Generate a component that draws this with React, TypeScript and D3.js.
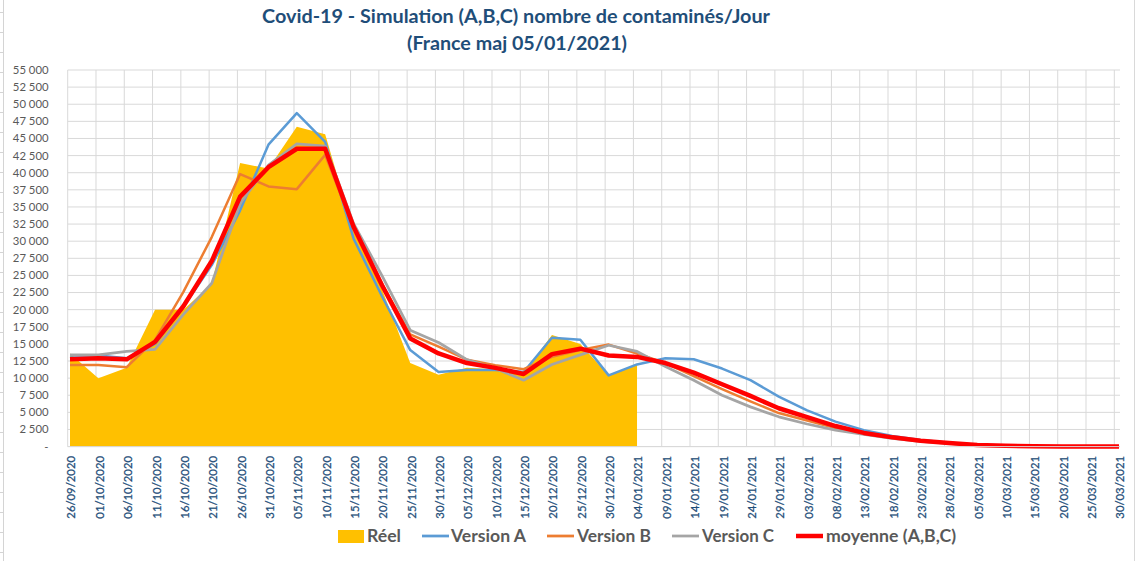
import React from "react";
import * as d3 from "d3";

const dateLabels = [
  "26/09/2020", "01/10/2020", "06/10/2020", "11/10/2020", "16/10/2020", "21/10/2020",
  "26/10/2020", "31/10/2020", "05/11/2020", "10/11/2020", "15/11/2020", "20/11/2020",
  "25/11/2020", "30/11/2020", "05/12/2020", "10/12/2020", "15/12/2020", "20/12/2020",
  "25/12/2020", "30/12/2020", "04/01/2021", "09/01/2021", "14/01/2021", "19/01/2021",
  "24/01/2021", "29/01/2021", "03/02/2021", "08/02/2021", "13/02/2021", "18/02/2021",
  "23/02/2021", "28/02/2021", "05/03/2021", "10/03/2021", "15/03/2021", "20/03/2021",
  "25/03/2021", "30/03/2021",
];

const reel = [
  13600, 10000, 11500, 20000, 20000, 23800, 41400, 40600, 46700, 45600, 31500,
  23000, 12200, 10500, 11500, 11300, 10800, 16300, 15000, 10400, 12100,
];

const versionA = [
  13300, 13300, 12900, 15000, 20400, 26500, 34500, 44100, 48700, 44500, 30400,
  22000, 14100, 10900, 11200, 11200, 10900, 15900, 15600, 10400, 12000, 12900,
  12750, 11400, 9700, 7300, 5300, 3650, 2400, 1550, 950, 580, 260, 150, 70, 30, 10, 0,
];

const versionB = [
  11900, 11900, 11600, 15600, 22600, 30600, 39800, 38000, 37600, 42600, 31900,
  23800, 16400, 14600, 12700, 11900, 11300, 13100, 14100, 14900, 13600, 12200,
  10300, 8400, 6600, 4900, 3800, 2700, 1950, 1350, 850, 550, 240, 120, 50, 20, 5, 0,
];

const versionC = [
  13400, 13400, 13900, 14200, 19300, 23850, 35500, 41100, 44200, 43900, 32600,
  25000, 17000, 15200, 12700, 11400, 9700, 12000, 13400, 14800, 13900, 11700,
  9700, 7500, 5800, 4350, 3300, 2400, 1800, 1200, 770, 480, 150, 80, 30, 10, 0, 0,
];

const moyenne = [
  12750, 12900, 12750, 15300, 20500, 27100, 36500, 40800, 43500, 43500, 32100,
  23600, 15800, 13600, 12200, 11500, 10600, 13500, 14300, 13300, 13100, 12200,
  10800, 9100, 7400, 5600, 4300, 3000, 2000, 1350, 850, 540, 220, 110, 40, 15, 5, 0,
];

const yTicks = d3.range(0, 55001, 2500);

const titleLine1 = "Covid-19 - Simulation (A,B,C) nombre de contaminés/Jour";
const titleLine2 = "(France maj 05/01/2021)";

const legendItems = [
  { label: "Réel", color: "#FFC000", kind: "rect" },
  { label: "Version A", color: "#5B9BD5", kind: "line" },
  { label: "Version B", color: "#ED7D31", kind: "line" },
  { label: "Version C", color: "#A5A5A5", kind: "line" },
  { label: "moyenne (A,B,C)", color: "#FF0000", kind: "line" },
];

const W = 1141;
const H = 561;
const FONT = "Lato, 'Open Sans', sans-serif";

export default function App() {
  const n = dateLabels.length;
  const x = d3.scaleLinear().domain([0, n - 1]).range([70, 1119]);
  const xGrid = d3.scaleLinear().domain([0, n - 1]).range([67.7, 1114.3]);
  const y = d3.scaleLinear().domain([0, 55000]).range([446.6, 70]);

  const line = d3
    .line<number>()
    .x((_, i) => x(i))
    .y((d) => y(d));
  const area = d3
    .area<number>()
    .x((_, i) => x(i))
    .y0(y(0))
    .y1((d) => y(d));

  const fmt = (v: number) =>
    v === 0 ? "-" : d3.format(",")(v).replace(/,/g, " ");

  const series = [
    { data: versionA, color: "#5B9BD5", w: 2.5 },
    { data: versionB, color: "#ED7D31", w: 2.5 },
    { data: versionC, color: "#A5A5A5", w: 2.75 },
    { data: moyenne, color: "#FF0000", w: 4.5 },
  ];

  const legendX = [338, 422, 547, 672, 796];
  const legendTextX = [367, 451, 577, 702, 826];
  const legendTextW = [34, 75, 74, 72, 130];
  const legendY = 536;

  const sideTicks = d3.range(12, H, 20);

  return (
    <svg
      width={W}
      height={H}
      style={{ position: "absolute", left: 0, top: 0, background: "#fff" }}
    >
      <rect x={0} y={0} width={W} height={H} fill="#fff" />
      {/* worksheet fragments at the edges */}
      <line x1={3.5} x2={3.5} y1={0} y2={H} stroke="#D4D4D4" strokeWidth={1} />
      {sideTicks.map((t) => (
        <line key={t} x1={0} x2={3.5} y1={t + 0.5} y2={t + 0.5} stroke="#D4D4D4" />
      ))}
      <line x1={1134.5} x2={1134.5} y1={0} y2={H} stroke="#D9D9D9" strokeWidth={1} />

      {/* title */}
      <text
        x={516}
        y={23}
        textAnchor="middle"
        fontFamily={FONT}
        fontWeight="bold"
        fontSize={18.5}
        fill="#1F4E79"
        textLength={508}
        lengthAdjust="spacingAndGlyphs"
      >
        {titleLine1}
      </text>
      <text
        x={517}
        y={50}
        textAnchor="middle"
        fontFamily={FONT}
        fontWeight="bold"
        fontSize={18.5}
        fill="#1F4E79"
        textLength={220}
        lengthAdjust="spacingAndGlyphs"
      >
        {titleLine2}
      </text>

      {/* gridlines */}
      <g stroke="#D9D9D9" strokeWidth={1}>
        {yTicks.map((t) => (
          <line key={"h" + t} x1={67.7} x2={1120} y1={y(t)} y2={y(t)} />
        ))}
        {dateLabels.map((_, i) => (
          <line key={"v" + i} x1={xGrid(i)} x2={xGrid(i)} y1={y(55000)} y2={y(0)} />
        ))}
      </g>

      {/* area */}
      <path d={area(reel) || ""} fill="#FFC000" />

      {/* lines */}
      {series.map((s, k) => (
        <path
          key={k}
          d={line(s.data) || ""}
          fill="none"
          stroke={s.color}
          strokeWidth={s.w}
          strokeLinejoin="round"
        />
      ))}

      {/* axis baseline */}
      <line x1={67.7} x2={1120} y1={y(0)} y2={y(0)} stroke="#D9D9D9" />

      {/* y tick labels */}
      {yTicks.map((t) => (
        <text
          key={"yl" + t}
          x={48.5}
          y={y(t)}
          dy="0.35em"
          textAnchor="end"
          fontFamily={FONT}
          fontSize={11.3}
          fill="#595959"
        >
          {fmt(t)}
        </text>
      ))}

      {/* x tick labels */}
      {dateLabels.map((d, i) => (
        <text
          key={"xl" + i}
          transform={`translate(${x(i) + 1.5},456) rotate(-90)`}
          dy="0.35em"
          textAnchor="end"
          fontFamily={FONT}
          fontSize={11.3}
          fill="#1F4E79"
          stroke="#1F4E79"
          strokeWidth={0.25}
        >
          {d}
        </text>
      ))}

      {/* legend */}
      {legendItems.map((it, k) => {
        const lx = legendX[k];
        return (
          <g key={it.label}>
            {it.kind === "rect" ? (
              <rect x={lx} y={legendY - 6} width={26} height={13} fill={it.color} />
            ) : (
              <line
                x1={lx}
                x2={lx + 27}
                y1={legendY}
                y2={legendY}
                stroke={it.color}
                strokeWidth={it.color === "#FF0000" ? 4.5 : 2.75}
              />
            )}
            <text
              x={legendTextX[k]}
              y={legendY}
              dy="0.35em"
              fontFamily={FONT}
              fontWeight="bold"
              fontSize={16.5}
              fill="#595959"
              textLength={legendTextW[k]}
              lengthAdjust="spacingAndGlyphs"
            >
              {it.label}
            </text>
          </g>
        );
      })}
    </svg>
  );
}
